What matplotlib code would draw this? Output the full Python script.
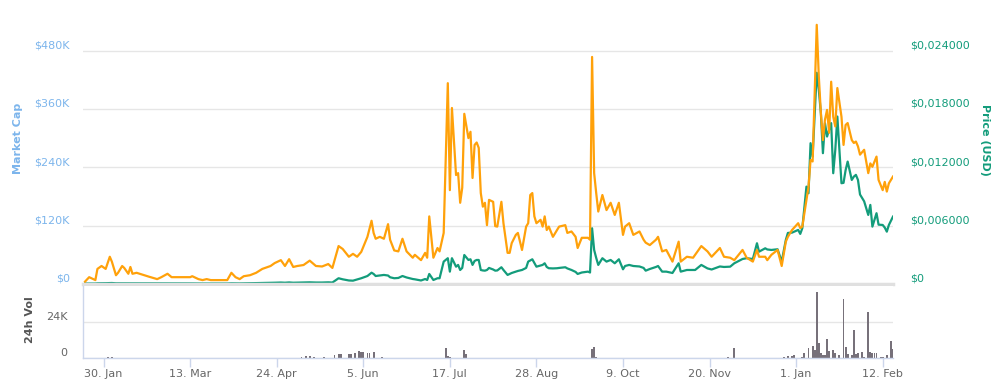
import matplotlib
matplotlib.use("Agg")
import matplotlib.pyplot as plt
import matplotlib.transforms as mtransforms
import pandas as pd

dates = [
    "2017-01-21", "2017-01-23", "2017-01-26", "2017-01-27", "2017-01-29", "2017-01-31",
    "2017-02-02", "2017-02-03", "2017-02-05", "2017-02-06", "2017-02-08", "2017-02-09", "2017-02-11",
    "2017-02-12", "2017-02-13", "2017-02-15", "2017-02-18", "2017-02-21", "2017-02-25", "2017-02-27",
    "2017-03-02", "2017-03-04", "2017-03-07", "2017-03-13", "2017-03-14", "2017-03-17", "2017-03-19",
    "2017-03-21", "2017-03-23", "2017-03-31",
    "2017-04-02", "2017-04-04", "2017-04-06", "2017-04-08", "2017-04-11", "2017-04-14", "2017-04-17",
    "2017-04-21", "2017-04-23", "2017-04-26", "2017-04-28", "2017-04-30",
    "2017-05-02", "2017-05-04", "2017-05-07", "2017-05-10", "2017-05-13", "2017-05-16", "2017-05-19",
    "2017-05-21", "2017-05-24", "2017-05-26", "2017-05-29", "2017-05-31",
    "2017-06-02", "2017-06-04", "2017-06-07", "2017-06-09", "2017-06-10", "2017-06-11", "2017-06-13",
    "2017-06-15", "2017-06-17", "2017-06-18", "2017-06-20", "2017-06-22", "2017-06-24", "2017-06-26",
    "2017-06-29", "2017-06-30",
    "2017-07-03", "2017-07-05", "2017-07-06", "2017-07-07", "2017-07-09", "2017-07-11", "2017-07-12",
    "2017-07-14", "2017-07-16", "2017-07-17", "2017-07-18", "2017-07-20", "2017-07-21", "2017-07-22",
    "2017-07-23", "2017-07-24", "2017-07-26", "2017-07-27", "2017-07-28", "2017-07-29", "2017-07-30",
    "2017-07-31",
    "2017-08-01", "2017-08-02", "2017-08-03", "2017-08-04", "2017-08-05", "2017-08-07", "2017-08-08",
    "2017-08-09", "2017-08-11", "2017-08-12", "2017-08-14", "2017-08-15", "2017-08-16", "2017-08-18",
    "2017-08-19", "2017-08-21", "2017-08-23", "2017-08-24", "2017-08-25", "2017-08-26", "2017-08-27",
    "2017-08-28", "2017-08-30", "2017-08-31",
    "2017-09-01", "2017-09-02", "2017-09-03", "2017-09-05", "2017-09-07", "2017-09-08", "2017-09-11",
    "2017-09-12", "2017-09-14", "2017-09-16", "2017-09-17", "2017-09-19", "2017-09-22", "2017-09-23",
    "2017-09-24", "2017-09-25", "2017-09-26", "2017-09-27", "2017-09-29",
    "2017-10-01", "2017-10-03", "2017-10-05", "2017-10-07", "2017-10-09", "2017-10-10", "2017-10-12",
    "2017-10-14", "2017-10-17", "2017-10-19", "2017-10-20", "2017-10-22", "2017-10-25", "2017-10-26",
    "2017-10-28", "2017-10-30",
    "2017-11-02", "2017-11-05", "2017-11-06", "2017-11-09", "2017-11-12", "2017-11-13", "2017-11-16",
    "2017-11-19", "2017-11-21", "2017-11-25", "2017-11-27", "2017-11-30",
    "2017-12-02", "2017-12-06", "2017-12-08", "2017-12-11", "2017-12-13", "2017-12-14", "2017-12-17",
    "2017-12-18", "2017-12-20", "2017-12-23", "2017-12-25", "2017-12-27", "2017-12-28", "2017-12-30",
    "2018-01-02", "2018-01-03", "2018-01-04", "2018-01-06", "2018-01-07", "2018-01-08", "2018-01-09",
    "2018-01-11", "2018-01-12", "2018-01-13", "2018-01-14", "2018-01-15", "2018-01-16", "2018-01-17",
    "2018-01-18", "2018-01-19", "2018-01-20", "2018-01-21", "2018-01-23", "2018-01-24", "2018-01-25",
    "2018-01-26", "2018-01-28", "2018-01-29", "2018-01-30", "2018-01-31",
    "2018-02-01", "2018-02-03", "2018-02-05", "2018-02-06", "2018-02-07", "2018-02-09", "2018-02-10",
    "2018-02-12", "2018-02-13", "2018-02-14", "2018-02-15", "2018-02-17",
]

market_cap_k = [
    5, 14, 8, 31, 37, 31,
    56, 46, 18, 23, 37, 33, 21, 35, 21, 23, 19, 15, 10, 14,
    21, 14, 14, 14, 16, 10, 8, 10, 8, 8,
    23, 14, 10, 16, 18, 23, 31, 37, 43, 49, 37, 51,
    35, 37, 39, 48, 37, 36, 41, 33, 78, 72, 56, 62,
    56, 66, 97, 130, 105, 93, 97, 93, 123, 91, 69, 67, 93, 67, 54, 60,
    49, 64, 54, 139, 54, 74, 67, 105, 413, 193, 362, 224, 228, 167, 198, 350, 300, 313, 218, 286, 291, 280,
    187, 159, 167, 121, 173, 169, 119, 118, 169, 125, 64, 64, 84, 101, 105, 70, 118, 125, 183, 187, 139,
    125, 132, 118,
    139, 111, 118, 97, 111, 118, 121, 105, 108, 97, 74, 95, 95, 91, 467, 228, 187, 149, 183,
    152, 167, 142, 167, 101, 118, 125, 101, 108, 91, 85, 80, 91, 97, 67, 70,
    46, 87, 46, 56, 54, 60, 78, 67, 56, 74, 56, 54,
    49, 70, 54, 46, 70, 56, 56, 49, 60, 70, 37, 87, 97, 111,
    125, 115, 118, 173, 200, 255, 252, 533, 427, 352, 296, 338, 358, 311, 416, 344, 324, 403, 344, 286,
    327, 331, 296, 290, 293, 283,
    266, 276, 228, 248, 241, 262, 214, 193, 210, 190, 207, 221,
]

price_usd = [
    0.00005, 0.00005, 0.00005, 0.00007, 0.00007, 0.00008,
    0.0001, 0.0001, 0.00007, 0.00007, 0.00008, 0.00008, 0.00007, 0.00008, 0.00007, 0.00007, 0.00007,
    0.00006, 0.00006, 0.00006,
    0.00007, 0.00006, 0.00006, 0.00006, 0.00006, 0.00005, 0.00005, 0.00005, 0.00005, 0.00005,
    0.00007, 0.00006, 0.00006, 0.00007, 0.00008, 0.00009, 0.0001, 0.00012, 0.00013, 0.00015, 0.00013,
    0.00016,
    0.00013, 0.00014, 0.00015, 0.00017, 0.00015, 0.00015, 0.00017, 0.00015, 0.00059, 0.00048, 0.00036,
    0.00034,
    0.00046, 0.00059, 0.00082, 0.00116, 0.00103, 0.00082, 0.00087, 0.00093, 0.00087, 0.00069, 0.00059,
    0.00062, 0.00082, 0.00067, 0.00051, 0.00048,
    0.00036, 0.00051, 0.00041, 0.00103, 0.00041, 0.00059, 0.00059, 0.0023, 0.00265, 0.00127, 0.00265,
    0.00178, 0.00196, 0.00144, 0.00165, 0.00298, 0.00247, 0.00254, 0.00196, 0.00237, 0.00247, 0.00247,
    0.00144, 0.00139, 0.00137, 0.00144, 0.00165, 0.00149, 0.00137, 0.00139, 0.00172, 0.00144, 0.00093,
    0.00103, 0.00113, 0.00127, 0.00134, 0.00144, 0.00165, 0.0023, 0.00242, 0.00254, 0.00216, 0.00178,
    0.0019, 0.00196,
    0.00213, 0.00175, 0.00162, 0.0016, 0.00162, 0.00165, 0.00172, 0.0016, 0.00144, 0.00124, 0.00103,
    0.00118, 0.00127, 0.00118, 0.00573, 0.0035, 0.00268, 0.00196, 0.00265,
    0.0023, 0.00247, 0.00213, 0.00254, 0.00151, 0.00185, 0.00196, 0.00185, 0.0018, 0.00165, 0.00137,
    0.00154, 0.00175, 0.00185, 0.00127, 0.00127,
    0.00113, 0.00213, 0.00127, 0.00144, 0.00144, 0.00144, 0.00196, 0.0016, 0.00149, 0.0018, 0.00175,
    0.00178,
    0.00213, 0.00257, 0.00265, 0.00257, 0.00419, 0.00332, 0.00367, 0.00355, 0.0035, 0.00357, 0.0023,
    0.00453, 0.00525, 0.00528,
    0.00556, 0.00515, 0.00573, 0.01001, 0.00933, 0.01448, 0.0131, 0.02172, 0.01997, 0.01757, 0.01345,
    0.01654, 0.01516, 0.01585, 0.01654, 0.01139, 0.01379, 0.01722, 0.01036, 0.0104, 0.0117, 0.01259,
    0.0107, 0.01104, 0.01122, 0.0107,
    0.0092, 0.0085, 0.0071, 0.00813, 0.0059, 0.00728, 0.0061, 0.00607, 0.0058, 0.00538, 0.00607, 0.00693,
]

vol_dates = [
    "2017-02-01", "2017-02-03",
    "2017-05-06", "2017-05-08", "2017-05-10", "2017-05-12", "2017-05-17", "2017-05-22", "2017-05-24",
    "2017-05-25", "2017-05-29", "2017-05-30",
    "2017-06-01", "2017-06-03", "2017-06-04", "2017-06-05", "2017-06-07", "2017-06-08", "2017-06-10",
    "2017-06-14",
    "2017-07-15", "2017-07-16", "2017-07-17", "2017-07-24", "2017-07-25",
    "2017-09-24", "2017-09-25", "2017-09-26",
    "2017-11-29",
    "2017-12-02", "2017-12-26", "2017-12-28", "2017-12-30", "2017-12-31",
    "2018-01-04", "2018-01-05", "2018-01-07", "2018-01-09", "2018-01-10", "2018-01-11", "2018-01-12",
    "2018-01-13", "2018-01-14", "2018-01-15", "2018-01-16", "2018-01-17", "2018-01-19", "2018-01-20",
    "2018-01-22", "2018-01-24", "2018-01-25", "2018-01-26", "2018-01-28", "2018-01-29", "2018-01-30",
    "2018-01-31",
    "2018-02-02", "2018-02-03", "2018-02-05", "2018-02-06", "2018-02-07", "2018-02-08", "2018-02-09",
    "2018-02-11", "2018-02-12", "2018-02-14", "2018-02-16", "2018-02-17",
]
volume_k = [
    0.6, 0.6,
    0.9, 1.2, 1.1, 0.9, 0.8, 2.0, 2.5, 3.0, 2.5, 2.7,
    3.5, 4.7, 4.2, 3.8, 3.5, 3.3, 3.8, 1.0,
    6.7, 1.5, 1.0, 5.5, 3.0,
    6.0, 7.5, 1.0,
    0.7,
    6.7, 0.7, 1.2, 1.5, 1.8,
    0.7, 3.5, 6.4, 8.0, 5.3, 43.8, 9.8, 3.5, 2.0, 2.0, 13.0, 4.7, 5.3, 3.5, 2.0, 39.3, 7.5, 2.7, 2.0,
    18.7, 2.7, 3.5,
    4.2, 1.0, 30.7, 4.2, 3.5, 3.5, 3.5, 1.0, 1.0, 2.0, 11.3, 6.0,
]

x_ticks = ["2017-01-30", "2017-03-13", "2017-04-24", "2017-06-05", "2017-07-17",
           "2017-08-28", "2017-10-09", "2017-11-20", "2018-01-01", "2018-02-12"]
x_tick_labels = ["30. Jan", "13. Mar", "24. Apr", "5. Jun", "17. Jul",
                 "28. Aug", "9. Oct", "20. Nov", "1. Jan", "12. Feb"]
mc_ticks = [0, 120, 240, 360, 480]
mc_tick_labels = ["$0", "$120K", "$240K", "$360K", "$480K"]
price_ticks = [0, 0.006, 0.012, 0.018, 0.024]
price_tick_labels = ["$0", "$0,006000", "$0,012000", "$0,018000", "$0,024000"]
vol_ticks = [0, 24]
vol_tick_labels = ["0", "24K"]

ORANGE = "#ffa10a"
GREEN = "#139c7b"
BLUE = "#7cb5ec"
GREY = "#666666"
AXIS = "#ccd6eb"
GRID = "#e6e6e6"

t = pd.to_datetime(dates)
tv = pd.to_datetime(vol_dates)
xlim = (pd.Timestamp("2017-01-20"), pd.Timestamp("2018-02-17"))

fig = plt.figure(figsize=(10, 3.87), dpi=100)

# price axis sits underneath, carries the grid
ax_p = fig.add_axes([0.083, 0.2662, 0.81, 0.6822])
ax_m = ax_p.twinx()
ax_m.set_zorder(ax_p.get_zorder() + 1)
ax_m.patch.set_visible(False)

mc_top = 543
ax_m.set_ylim(0, mc_top)
ax_p.set_ylim(0, mc_top / 20000.0)
ax_p.set_xlim(xlim)

ax_p.plot(t, price_usd, color=GREEN, lw=1.6, solid_joinstyle="round")
ax_m.plot(t, market_cap_k, color=ORANGE, lw=1.6, solid_joinstyle="round")

# market cap on the left, price on the right
ax_m.yaxis.tick_left()
ax_p.yaxis.tick_right()
ax_m.set_yticks(mc_ticks, mc_tick_labels)
ax_p.set_yticks(price_ticks, price_tick_labels)
ax_m.tick_params(axis="y", length=0, pad=9.5, labelsize=8, labelcolor=BLUE)
ax_p.tick_params(axis="y", length=0, pad=12, labelsize=8, labelcolor=GREEN)
ax_p.grid(axis="y", color=GRID, lw=1)
for a in (ax_p, ax_m):
    a.tick_params(axis="x", bottom=False, labelbottom=False)
    for s in a.spines.values():
        s.set_visible(False)
ax_p.spines["bottom"].set_visible(True)
ax_p.spines["bottom"].set_color("#e0e0e0")
ax_p.spines["bottom"].set_linewidth(2.5)

# volume panel
ax_v = fig.add_axes([0.083, 0.0749, 0.81, 0.1861])
ax_v.bar(tv, volume_k, width=0.9, color="#77717a", align="center")
ax_v.set_xlim(xlim)
ax_v.set_ylim(0, 48)
ax_v.set_yticks(vol_ticks, vol_tick_labels)
ax_v.set_xticks(pd.to_datetime(x_ticks), x_tick_labels)
ax_v.tick_params(axis="y", length=0, pad=11, labelsize=8, labelcolor=GREY)
ax_v.tick_params(axis="x", length=6.5, width=1, color=AXIS, pad=1.5, labelsize=8, labelcolor=GREY)
ax_v.grid(axis="y", color=GRID, lw=1)
ax_v.set_axisbelow(True)
for side in ("top", "right"):
    ax_v.spines[side].set_visible(False)
for side in ("left", "bottom"):
    ax_v.spines[side].set_color(AXIS)
    ax_v.spines[side].set_linewidth(1)

# highcharts style: y labels sit just above their grid lines
lift = mtransforms.ScaledTranslation(0, 0.06, fig.dpi_scale_trans)
for lab in ax_m.get_yticklabels() + ax_p.get_yticklabels() + ax_v.get_yticklabels():
    lab.set_transform(lab.get_transform() + lift)

fig.text(0.018, 1 - 138 / 387, "Market Cap", rotation=90, color=BLUE, fontsize=8,
         fontweight="bold", ha="center", va="center")
fig.text(0.985, 1 - 140 / 387, "Price (USD)", rotation=270, color=GREEN, fontsize=8,
         fontweight="bold", ha="center", va="center")
fig.text(0.030, 1 - 320 / 387, "24h Vol", rotation=90, color="#555555", fontsize=8,
         fontweight="bold", ha="center", va="center")

fig.savefig("out.png", dpi=100)
